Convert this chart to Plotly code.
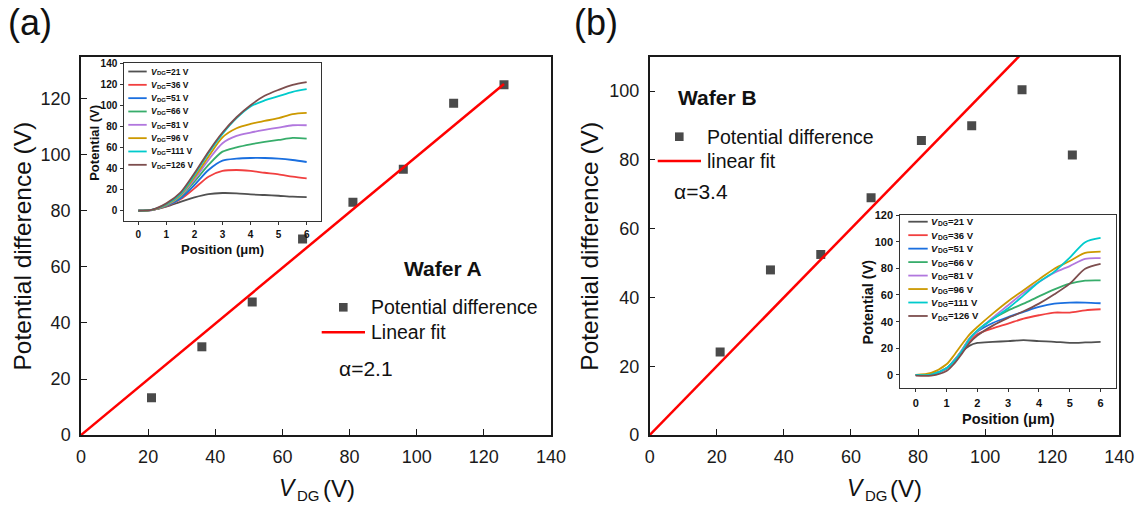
import plotly.graph_objects as go

W, H = 1141, 511

# ---------------- data ----------------
vdg = [21, 36, 51, 66, 81, 96, 111, 126]
pdiff_a = [13.3, 31.5, 47.5, 70.0, 83.1, 94.9, 118.5, 125.1]
pdiff_b = [24.1, 48.0, 52.5, 69.0, 85.6, 89.9, 100.4, 81.4]
fit_x = [0, 126]
fit_slope_a = 0.995
fit_slope_b = 1.0

curve_labels = ["21", "36", "51", "66", "81", "96", "111", "126"]
curve_colors = ["#515151", "#F14040", "#1A6FDF", "#37AD6B",
                "#B177DE", "#CC9900", "#00CBCC", "#7D4E4E"]

pos_a = [0, 0.5, 1, 1.5, 2, 2.5, 3, 3.5, 4, 4.5, 5, 5.5, 6]
a_21 = [0, 0.8, 3.8, 8.5, 12.7, 15.8, 16.8, 16.5, 15.5, 14.9, 14.2, 13.3, 13.0]
a_36 = [0, 0.7, 4.4, 10.8, 21.2, 32.3, 37.7, 38.6, 37.7, 36.0, 34.5, 32.3, 30.7]
a_51 = [0, 0.7, 4.7, 11.7, 24.4, 38.6, 47.5, 49.4, 50.0, 50.0, 49.4, 48.1, 46.2]
a_66 = [0, 0.8, 5.1, 13.3, 27.5, 43.4, 56.0, 60.1, 63.0, 65.2, 67.1, 69.0, 68.4]
a_81 = [0, 0.8, 5.4, 14.2, 29.8, 48.1, 64.0, 70.9, 74.1, 76.6, 78.8, 81.0, 81.0]
a_96 = [0, 0.9, 5.7, 14.9, 31.7, 51.3, 69.6, 78.2, 82.3, 85.1, 87.7, 91.5, 92.7]
a_111 = [0, 1.0, 6.3, 15.8, 33.9, 54.5, 72.8, 87.7, 98.8, 104.5, 108.6, 112.7, 115.2]
a_126 = [0, 1.1, 7.0, 17.1, 35.5, 56.0, 74.1, 88.6, 100.0, 108.9, 114.6, 119.3, 121.9]

pos_b = [0, 0.5, 1, 1.25, 1.5, 1.75, 2, 2.5, 3, 3.5, 4, 4.5, 5, 5.5, 6]
b_21 = [0, 0.2, 5, 11, 17.5, 22, 24, 24.8, 25.4, 26.1, 25.4, 24.9, 24.1, 24.4, 24.9]
b_36 = [0, 0.2, 4.5, 10, 17, 25, 30.5, 35, 38.5, 42.3, 44.8, 46.8, 46.8, 48.5, 49.3]
b_51 = [0, 0.2, 5, 10.5, 18, 27, 32.5, 39, 43.5, 47.3, 51, 53.5, 54.3, 54.3, 53.8]
b_66 = [0, 0.3, 5, 11, 18.5, 27.5, 33, 42, 48.5, 53.5, 59, 64.2, 68.5, 70.7, 70.9]
b_81 = [0, 0.3, 5, 11, 18.5, 27.5, 33, 43, 52.3, 61.7, 69.7, 76.7, 81.7, 87.1, 87.6]
b_96 = [0, 1.5, 8, 15, 23, 30.5, 36, 46, 55.3, 63.5, 71.7, 79.7, 85.5, 91.6, 92.6]
b_111 = [0, 0.3, 5, 10.5, 18, 27, 33.5, 42, 50, 59.7, 69.7, 77.5, 88.0, 99.6, 102.8]
b_126 = [-0.5, -0.5, 3, 8.5, 16, 24, 29.5, 37, 42.8, 47.8, 53.5, 60.5, 68.5, 79.7, 83.4]

inset_a = [a_21, a_36, a_51, a_66, a_81, a_96, a_111, a_126]
inset_b = [b_21, b_36, b_51, b_66, b_81, b_96, b_111, b_126]

# ---------------- helpers (pixel -> paper) ----------------
def px(x):
    return x / W


def py(y):
    return 1 - y / H


FONT = "Liberation Sans, Arial, sans-serif"
MARK = "#4a4a4a"

fig = go.Figure()

# main panels
fig.add_trace(go.Scatter(x=vdg, y=pdiff_a, mode="markers", name="Potential difference",
                         marker=dict(symbol="square", size=9, color=MARK),
                         xaxis="x", yaxis="y", showlegend=False))
fig.add_trace(go.Scatter(x=fit_x, y=[v * fit_slope_a for v in fit_x], mode="lines",
                         name="Linear fit", line=dict(color="#ff0000", width=2.5),
                         xaxis="x", yaxis="y", showlegend=False))
fig.add_trace(go.Scatter(x=vdg, y=pdiff_b, mode="markers", name="Potential difference",
                         marker=dict(symbol="square", size=9, color=MARK),
                         xaxis="x2", yaxis="y2", showlegend=False))
fig.add_trace(go.Scatter(x=fit_x, y=[v * fit_slope_b for v in fit_x], mode="lines",
                         name="linear fit", line=dict(color="#ff0000", width=2.5),
                         xaxis="x2", yaxis="y2", showlegend=False))

# insets
for lab, col, ys in zip(curve_labels, curve_colors, inset_a):
    fig.add_trace(go.Scatter(x=pos_a, y=ys, mode="lines", name=f"VDG={lab} V",
                             line=dict(color=col, width=1.8, shape="spline", smoothing=0.8),
                             xaxis="x3", yaxis="y3", showlegend=False))
for lab, col, ys in zip(curve_labels, curve_colors, inset_b):
    fig.add_trace(go.Scatter(x=pos_b, y=ys, mode="lines", name=f"VDG={lab} V",
                             line=dict(color=col, width=1.8, shape="spline", smoothing=0.8),
                             xaxis="x4", yaxis="y4", showlegend=False))


def main_axis(dom, rng, dtick):
    return dict(domain=dom, range=rng, dtick=dtick, showgrid=False, zeroline=False,
                showline=True, linecolor="#1a1a1a", linewidth=1.5, mirror=True,
                ticks="inside", ticklen=6, tickwidth=1.3, tickcolor="#1a1a1a",
                tickfont=dict(family=FONT, size=18, color="#1a1a1a"),
                ticklabelstandoff=5, automargin=False)


def inset_axis(dom, rng, dtick, fs, anchor):
    return dict(domain=dom, range=rng, dtick=dtick, showgrid=False, zeroline=False,
                showline=True, linecolor="#333333", linewidth=1, mirror=True,
                ticks="outside", ticklen=3, tickwidth=1, tickcolor="#333333",
                tickfont=dict(family=FONT, size=fs, color="#111111", weight="bold"),
                ticklabelstandoff=1, anchor=anchor, automargin=False)


fig.update_layout(
    width=W, height=H, margin=dict(l=0, r=0, t=0, b=0, autoexpand=False),
    paper_bgcolor="white", plot_bgcolor="rgba(0,0,0,0)",
    xaxis=dict(**main_axis([px(81), px(551)], [0, 140], 20), anchor="y"),
    yaxis=dict(**main_axis([py(435), py(56.7)], [0, 135.1], 20), anchor="x"),
    xaxis2=dict(**main_axis([px(649.7), px(1119.3)], [0, 140], 20), anchor="y2"),
    yaxis2=dict(**main_axis([py(435), py(56.7)], [0, 110], 20), anchor="x2"),
    xaxis3=inset_axis([px(124.3), px(320.7)], [-0.5, 6.5], 1, 10, "y3"),
    yaxis3=inset_axis([py(221.3), py(63)], [-10, 140], 20, 10, "x3"),
    xaxis4=inset_axis([px(900.3), px(1116)], [-0.5, 6.5], 1, 11, "y4"),
    yaxis4=inset_axis([py(388.3), py(215)], [-10, 120], 20, 11, "x4"),
    showlegend=False,
)

ann = []
shapes = []


def text(x, y, s, size, xanchor="center", angle=0, bold=False, italic=False,
         color="#111111"):
    ann.append(dict(x=px(x), y=py(y), xref="paper", yref="paper", text=s, showarrow=False,
                    xanchor=xanchor, yanchor="middle", textangle=angle,
                    borderpad=0, borderwidth=0,
                    font=dict(family=FONT, size=size, color=color,
                              weight="bold" if bold else "normal",
                              style="italic" if italic else "normal")))


def vdg_text(x0, y, size, rest, bold, sub_size, dg_off, rest_off, sub_dy, rest_size=None):
    """Italic V, subscript DG, then the rest of the label, laid out left to right."""
    text(x0, y, "V", size, xanchor="left", bold=bold, italic=True)
    text(x0 + dg_off, y + sub_dy, "DG", sub_size, xanchor="left", bold=bold)
    text(x0 + rest_off, y, rest, rest_size or size, xanchor="left", bold=bold)


# panel labels
text(30, 22, "(a)", 36)
text(596, 22, "(b)", 36)

# main axis titles
text(22.7, 245.8, "Potential difference (V)", 24.5, angle=-90)
text(590, 246.7, "Potential difference (V)", 24.5, angle=-90)
vdg_text(279, 488, 23, "(V)", False, 15, 18, 43.5, 7.5, rest_size=24)
vdg_text(846.7, 488, 23, "(V)", False, 15, 18, 43.5, 7.5, rest_size=24)

# inset axis titles
text(94.3, 142.5, "Potential (V)", 13, angle=-90, bold=True)
text(222, 249.3, "Position (μm)", 13, bold=True)
text(867.7, 301.7, "Potential (V)", 14.5, angle=-90, bold=True)
text(1008, 419, "Position (μm)", 14.5, bold=True)

# main legends (a)
text(443, 268, "Wafer A", 21, bold=True)
shapes.append(dict(type="rect", xref="paper", yref="paper",
                   x0=px(339), x1=px(347.6), y0=py(311.6), y1=py(303),
                   fillcolor=MARK, line=dict(width=0)))
text(371, 307.3, "Potential difference", 19.5, xanchor="left")
shapes.append(dict(type="line", xref="paper", yref="paper",
                   x0=px(321.7), x1=px(365), y0=py(332.3), y1=py(332.3),
                   line=dict(color="#ff0000", width=2.5)))
text(371, 332.3, "Linear fit", 19.5, xanchor="left")
text(339, 368, "α=2.1", 21, xanchor="left")

# main legends (b)
text(717.7, 97.7, "Wafer B", 21, bold=True)
shapes.append(dict(type="rect", xref="paper", yref="paper",
                   x0=px(675), x1=px(683.6), y0=py(141), y1=py(132.4),
                   fillcolor=MARK, line=dict(width=0)))
text(707, 137, "Potential difference", 19.5, xanchor="left")
shapes.append(dict(type="line", xref="paper", yref="paper",
                   x0=px(657.7), x1=px(701), y0=py(161), y1=py(161),
                   line=dict(color="#ff0000", width=2.5)))
text(707, 161, "linear fit", 19.5, xanchor="left")
text(674.3, 191, "α=3.4", 21, xanchor="left")

# inset legends
for i, (lab, col) in enumerate(zip(curve_labels, curve_colors)):
    ya = 71.5 + 13.33 * i
    shapes.append(dict(type="line", xref="paper", yref="paper",
                       x0=px(128.3), x1=px(146.7), y0=py(ya), y1=py(ya),
                       line=dict(color=col, width=1.8)))
    vdg_text(151, ya, 8.5, f"={lab} V", True, 6, 6.0, 15.4, 1.9)
    yb = 221.7 + 13.47 * i
    shapes.append(dict(type="line", xref="paper", yref="paper",
                       x0=px(908.3), x1=px(927.7), y0=py(yb), y1=py(yb),
                       line=dict(color=col, width=1.8)))
    vdg_text(931, yb, 9.5, f"={lab} V", True, 6.6, 6.7, 17.1, 2.1)

fig.update_layout(annotations=ann, shapes=shapes)
fig.write_html("out.html", config={"displayModeBar": False},
               post_script="document.body.style.margin='0px';")
